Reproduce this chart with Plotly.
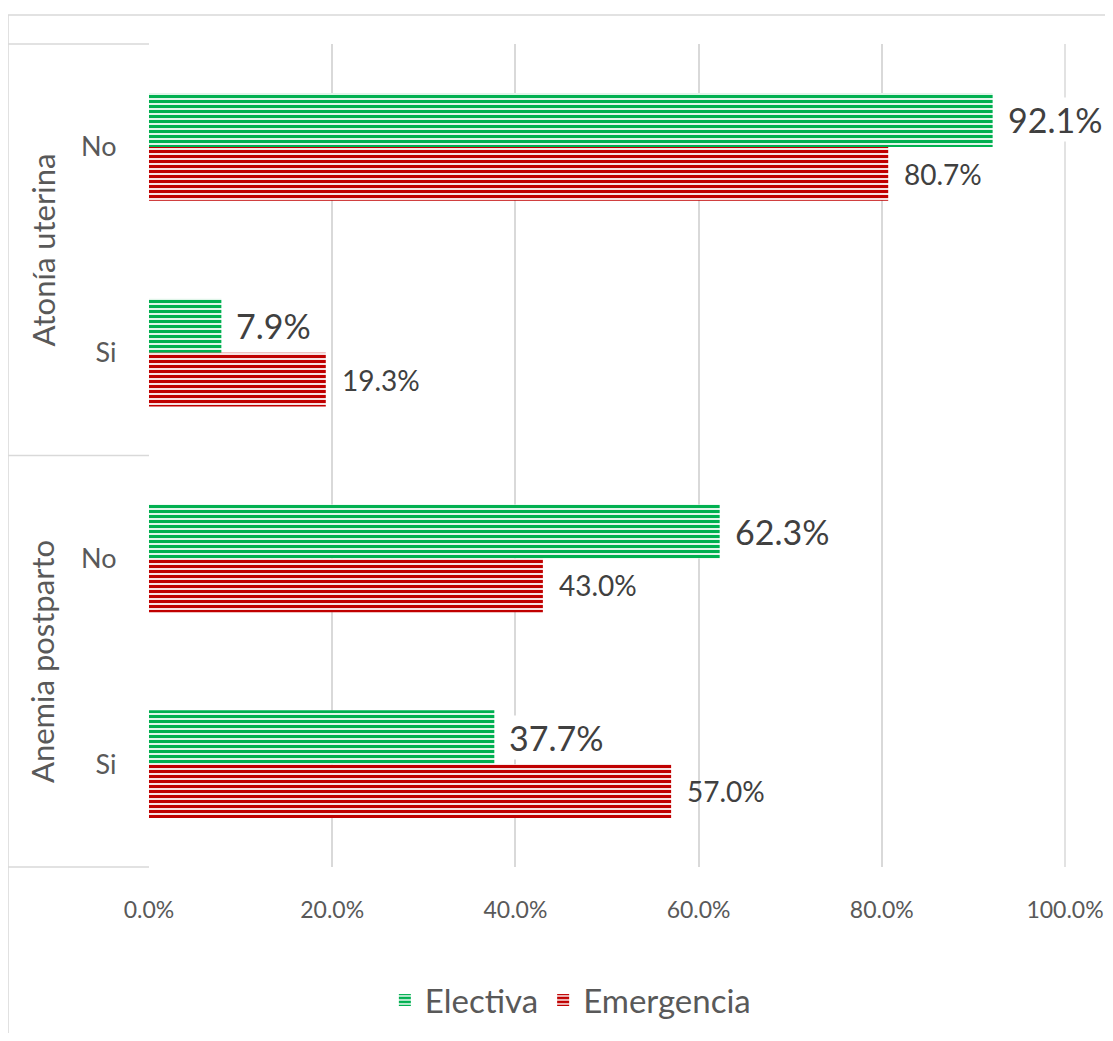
import plotly.graph_objects as go

# ---- data ----
groups = ["Atonía uterina", "Atonía uterina", "Anemia postparto", "Anemia postparto"]
answers = ["No", "Si", "No", "Si"]
electiva = [0.921, 0.079, 0.623, 0.377]
emergencia = [0.807, 0.193, 0.430, 0.570]
x_ticks = [0.0, 0.2, 0.4, 0.6, 0.8, 1.0]
group_names = ["Atonía uterina", "Anemia postparto"]

cats = [g + "|" + a for g, a in zip(groups, answers)]

FONT = "Lato"
TXT = "#595959"
GREEN = "#00B050"
RED = "#C00000"

fig = go.Figure()
fig.add_trace(go.Bar(
    y=cats, x=electiva, orientation="h", name="Electiva",
    marker=dict(color="white", line=dict(width=0),
                pattern=dict(shape="-", fgcolor=GREEN, fgopacity=1, bgcolor="white",
                             size=5, solidity=0.65, fillmode="replace")),
))
fig.add_trace(go.Bar(
    y=cats, x=emergencia, orientation="h", name="Emergencia",
    marker=dict(color="white", line=dict(width=0),
                pattern=dict(shape="-", fgcolor=RED, fgopacity=1, bgcolor="white",
                             size=5, solidity=0.65, fillmode="replace")),
))

annotations = []
for c, v in zip(cats, electiva):
    annotations.append(dict(x=v, y=c, xref="x", yref="y", text=f"{v*100:.1f}%",
                            showarrow=False, xanchor="left", xshift=13, yshift=27,
                            bgcolor="white",
                            font=dict(family=FONT, size=34, color="#404040")))
for c, v in zip(cats, emergencia):
    annotations.append(dict(x=v, y=c, xref="x", yref="y", text=f"{v*100:.1f}%",
                            showarrow=False, xanchor="left", xshift=14, yshift=-27,
                            font=dict(family=FONT, size=28, color="#404040")))
for i, g in enumerate(group_names):
    annotations.append(dict(x=-0.116, y=0.75 - 0.5 * i, xref="paper", yref="paper", text=g,
                            showarrow=False, textangle=-90, xanchor="center", yanchor="middle",
                            font=dict(family=FONT, size=31, color=TXT)))

LINE = dict(color="#D9D9D9", width=1.5)
shapes = [
    dict(type="rect", xref="paper", yref="paper", x0=-0.1539, x1=1.2, y0=-0.4, y1=1.0352,
         line=LINE, layer="below"),
    dict(type="line", xref="paper", yref="paper", x0=1, x1=1, y0=0, y1=1, line=LINE, layer="below"),
]
for yy in [0, 0.5, 1]:
    shapes.append(dict(type="line", xref="paper", yref="paper", x0=-0.1539, x1=0, y0=yy, y1=yy, line=LINE))

fig.update_layout(
    width=1097, height=1025,
    margin=dict(l=141, r=40, t=36, b=166),
    paper_bgcolor="white", plot_bgcolor="white",
    barmode="group", bargap=0.476, bargroupgap=0,
    font=dict(family=FONT, color=TXT),
    xaxis=dict(range=[0, 1], tickvals=x_ticks, tickformat=".1%",
               showgrid=True, gridcolor="#D9D9D9", gridwidth=1.5,
               zeroline=False, showline=False, automargin=False,
               ticklabeloverflow="allow",
               ticks="outside", ticklen=22, tickcolor="rgba(0,0,0,0)",
               tickfont=dict(family=FONT, size=23, color=TXT)),
    yaxis=dict(categoryorder="array", categoryarray=cats, autorange="reversed",
               tickvals=cats, ticktext=answers, automargin=False,
               showgrid=False, zeroline=False, showline=False,
               ticks="outside", ticklen=26, tickcolor="rgba(0,0,0,0)",
               tickfont=dict(family=FONT, size=27, color=TXT)),
    legend=dict(orientation="h", x=0.46, xanchor="center",
                yref="container", y=0.0322, yanchor="middle",
                font=dict(family=FONT, size=33, color=TXT), itemwidth=30),
    annotations=annotations,
    shapes=shapes,
)

fig.write_html("out.html")
